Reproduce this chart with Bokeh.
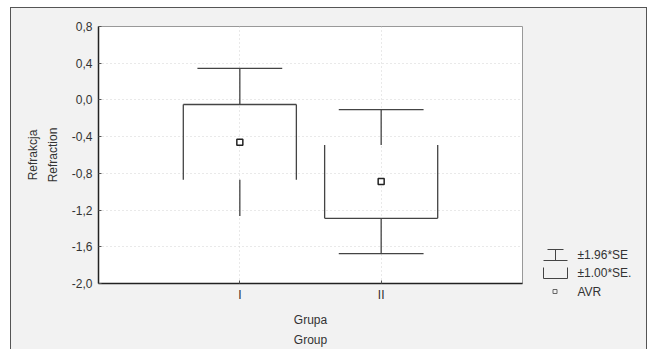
from bokeh.plotting import figure
from bokeh.models import Range1d, FixedTicker
from bokeh.layouts import row
from bokeh.embed import file_html
from bokeh.resources import INLINE
from bokeh.core.properties import value

# ---- data ----
groups = ["I", "II"]
group_pos = [1, 2]
means = [-0.46, -0.89]
se = [0.41, 0.40]
k_outer = 1.96
k_inner = 1.00
y_ticks = [0.8, 0.4, 0.0, -0.4, -0.8, -1.2, -1.6, -2.0]
y_tick_labels = ["0,8", "0,4", "0,0", "-0,4", "-0,8", "-1,2", "-1,6", "-2,0"]
legend_labels = ["\u00b11.96*SE", "\u00b11.00*SE.", "AVR"]
# which edges are visible in the original picture
show_box_top = [True, False]
show_box_bottom = [False, True]
show_upper_cap = [True, True]
show_lower_cap = [False, True]

FONT = "Liberation Sans"
LINE = "#444444"
BG = "#f2f2f2"

H = 341
ML, MR, MT, MB = 87, 1, 18, 65
W1 = ML + 424 + MR
W2 = 635 - W1
p = figure(width=W1, height=H, x_range=Range1d(0, 3), y_range=Range1d(-2.0, 0.8),
           output_backend="svg", toolbar_location=None,
           min_border_left=ML, min_border_right=MR, min_border_top=MT, min_border_bottom=MB,
           background_fill_color="white", border_fill_color=BG,
           outline_line_color="#999999", outline_line_width=1)

# axes
p.yaxis.ticker = FixedTicker(ticks=y_ticks, minor_ticks=[])
p.yaxis.major_label_overrides = {t: l for t, l in zip(y_ticks, y_tick_labels)}
p.xaxis.ticker = FixedTicker(ticks=group_pos, minor_ticks=[])
p.xaxis.major_label_overrides = {g: n for g, n in zip(group_pos, groups)}
for ax in (p.xaxis[0], p.yaxis[0]):
    ax.axis_line_color = "#222222"
    ax.axis_line_width = 1.5
    ax.major_tick_in = 3
    ax.major_tick_out = 0
    ax.major_tick_line_color = "#555555"
    ax.minor_tick_line_color = None
    ax.major_label_text_font = FONT
    ax.major_label_text_font_size = "12px"
    ax.major_label_text_color = "#333333"
    ax.axis_label_text_font = FONT
    ax.axis_label_text_font_size = "12px"
    ax.axis_label_text_font_style = "normal"
    ax.axis_label_text_color = "#333333"
    ax.axis_label_text_line_height = 1.45
p.yaxis.axis_label = "Refrakcja\nRefraction"
p.yaxis.major_label_standoff = 6
p.yaxis.axis_label_standoff = 9
p.xaxis.axis_label = "Grupa\nGroup"
p.xaxis.major_label_standoff = 4
p.xaxis.axis_label_standoff = 8

p.grid.grid_line_color = "#d2d2d2"
p.grid.grid_line_dash = "1 3"
p.grid.grid_line_width = 1

# ---- derived values ----
box_top = [m + k_inner * s for m, s in zip(means, se)]
box_bot = [m - k_inner * s for m, s in zip(means, se)]
wh_top = [m + k_outer * s for m, s in zip(means, se)]
wh_bot = [m - k_outer * s for m, s in zip(means, se)]
bw = 0.4   # box half-width (x units)
cw = 0.3   # cap half-width
LW = 1.3

# box sides
p.segment(x0=[x - bw for x in group_pos], y0=box_bot, x1=[x - bw for x in group_pos], y1=box_top,
          line_color=LINE, line_width=LW)
p.segment(x0=[x + bw for x in group_pos], y0=box_bot, x1=[x + bw for x in group_pos], y1=box_top,
          line_color=LINE, line_width=LW)
# box top / bottom edges
bt = [i for i, f in enumerate(show_box_top) if f]
p.segment(x0=[group_pos[i] - bw for i in bt], y0=[box_top[i] for i in bt],
          x1=[group_pos[i] + bw for i in bt], y1=[box_top[i] for i in bt], line_color=LINE, line_width=LW)
bb = [i for i, f in enumerate(show_box_bottom) if f]
p.segment(x0=[group_pos[i] - bw for i in bb], y0=[box_bot[i] for i in bb],
          x1=[group_pos[i] + bw for i in bb], y1=[box_bot[i] for i in bb], line_color=LINE, line_width=LW)
# whiskers
p.segment(x0=group_pos, y0=box_top, x1=group_pos, y1=wh_top, line_color=LINE, line_width=LW)
p.segment(x0=group_pos, y0=box_bot, x1=group_pos, y1=wh_bot, line_color=LINE, line_width=LW)
uc = [i for i, f in enumerate(show_upper_cap) if f]
p.segment(x0=[group_pos[i] - cw for i in uc], y0=[wh_top[i] for i in uc],
          x1=[group_pos[i] + cw for i in uc], y1=[wh_top[i] for i in uc], line_color=LINE, line_width=LW)
lc = [i for i, f in enumerate(show_lower_cap) if f]
p.segment(x0=[group_pos[i] - cw for i in lc], y0=[wh_bot[i] for i in lc],
          x1=[group_pos[i] + cw for i in lc], y1=[wh_bot[i] for i in lc], line_color=LINE, line_width=LW)
# means
p.scatter(x=group_pos, y=means, marker="square", size=6, fill_color="white",
          line_color="#222222", line_width=1.5)

# ---- legend panel: a small figure whose data units are pixels (y downward) ----
leg = figure(width=W2, height=H, x_range=Range1d(0, W2), y_range=Range1d(H, 0),
             x_axis_type=None, y_axis_type=None, output_backend="svg", toolbar_location=None,
             min_border=0, min_border_left=0, min_border_right=0, min_border_top=0,
             min_border_bottom=0, frame_align=False, title=None,
             background_fill_color=BG, border_fill_color=BG, outline_line_color=None)
leg.grid.visible = False
# item 1: whisker icon
leg.segment(x0=[24, 32, 20], y0=[241, 241, 252], x1=[40, 32, 44], y1=[241, 252, 252],
            line_color=LINE, line_width=1)
# item 2: box icon (open at top)
leg.segment(x0=[20, 44, 20], y0=[259, 259, 270], x1=[20, 44, 44], y1=[270, 270, 270],
            line_color=LINE, line_width=1)
# item 3: mean marker
leg.scatter(x=[31.5], y=[283], marker="square", size=4, fill_color=None, line_color="#666666",
            line_width=1)
leg.text(x=[54, 54, 54], y=[246, 264, 283], text=legend_labels, text_font=value(FONT),
         text_font_size="12px", text_color="#333333", text_baseline="middle", text_align="left")

layout = row(p, leg, spacing=0,
             styles={"border": "1px solid #555555", "border-bottom": "none",
                     "margin-left": "10px", "margin-top": "7px", "background-color": BG})

open("out.html", "w").write(file_html(layout, INLINE))
